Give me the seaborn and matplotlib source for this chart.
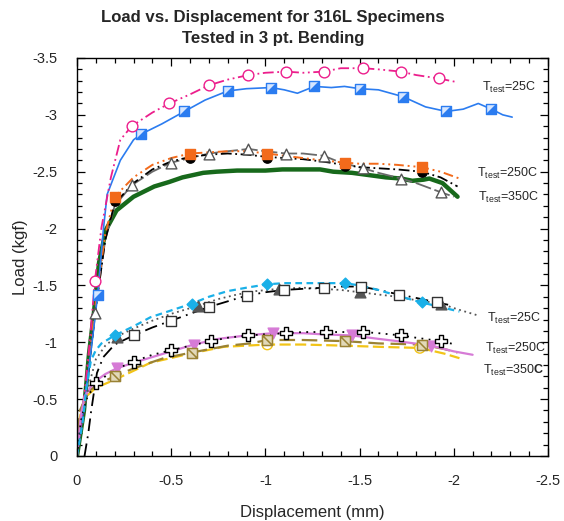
import matplotlib
matplotlib.use("Agg")
import matplotlib.pyplot as plt
import seaborn as sns
import numpy as np
from matplotlib.path import Path
from matplotlib.ticker import MultipleLocator, FuncFormatter

# ---- upper group (first specimen set) ----
# T=25C, pink dash-dot-dot, open circles
pink_x = [0, -0.04, -0.07, -0.095, -0.13, -0.18, -0.23, -0.29, -0.4, -0.49, -0.6, -0.7, -0.8, -0.91,
          -1.0, -1.11, -1.2, -1.31, -1.4, -1.52, -1.6, -1.72, -1.8, -1.92, -2.01]
pink_y = [0, -0.55, -1.05, -1.54, -2.01, -2.45, -2.78, -2.90, -3.02, -3.10, -3.18, -3.26, -3.31, -3.35,
          -3.37, -3.38, -3.37, -3.38, -3.41, -3.41, -3.40, -3.38, -3.35, -3.32, -3.29]
pink_mx = [-0.095, -0.29, -0.49, -0.70, -0.91, -1.11, -1.31, -1.52, -1.72, -1.92]
pink_my = [-1.54, -2.90, -3.10, -3.26, -3.35, -3.38, -3.38, -3.41, -3.38, -3.32]

# T=25C, blue solid, half filled squares
blue_x = [0, -0.05, -0.08, -0.11, -0.14, -0.16, -0.23, -0.30, -0.34, -0.45, -0.57, -0.68, -0.8, -0.9,
          -1.03, -1.1, -1.17, -1.26, -1.35, -1.42, -1.5, -1.6, -1.73, -1.85, -1.96, -2.05, -2.13,
          -2.2, -2.26, -2.31]
blue_y = [0, -0.6, -1.0, -1.42, -1.99, -2.30, -2.60, -2.78, -2.83, -2.92, -3.03, -3.13, -3.21, -3.23,
          -3.24, -3.22, -3.19, -3.25, -3.24, -3.25, -3.23, -3.22, -3.16, -3.07, -3.03, -3.05, -3.10,
          -3.05, -3.00, -2.98]
blue_mx = [-0.11, -0.34, -0.57, -0.80, -1.03, -1.26, -1.50, -1.73, -1.96, -2.20]
blue_my = [-1.42, -2.83, -3.03, -3.21, -3.24, -3.25, -3.23, -3.16, -3.03, -3.05]

# T=250C, orange dash-dot-dot, filled squares
orange_x = [0, -0.05, -0.1, -0.15, -0.2, -0.3, -0.4, -0.5, -0.6, -0.7, -0.8, -0.9, -1.01, -1.1, -1.2,
            -1.3, -1.42, -1.5, -1.6, -1.7, -1.83, -1.93, -2.03]
orange_y = [0, -0.65, -1.35, -1.95, -2.28, -2.45, -2.56, -2.62, -2.66, -2.67, -2.68, -2.68, -2.66,
            -2.64, -2.62, -2.60, -2.58, -2.57, -2.57, -2.56, -2.54, -2.50, -2.44]
orange_mx = [-0.20, -0.60, -1.01, -1.42, -1.83]
orange_my = [-2.28, -2.66, -2.66, -2.58, -2.54]

# T=250C, black dashed, filled circles
black_x = [0, -0.05, -0.1, -0.15, -0.2, -0.3, -0.4, -0.5, -0.6, -0.7, -0.8, -0.9, -1.01, -1.1, -1.2,
           -1.3, -1.42, -1.5, -1.6, -1.7, -1.83, -1.93, -2.02]
black_y = [0, -0.6, -1.3, -1.9, -2.22, -2.40, -2.52, -2.59, -2.63, -2.65, -2.66, -2.65, -2.63, -2.62,
           -2.61, -2.59, -2.56, -2.54, -2.53, -2.52, -2.50, -2.45, -2.37]
black_mx = [-0.20, -0.60, -1.01, -1.42, -1.83]
black_my = [-2.24, -2.62, -2.62, -2.55, -2.50]

# T=350C, gray, open triangles
gray_x = [0, -0.05, -0.095, -0.15, -0.2, -0.29, -0.4, -0.5, -0.6, -0.7, -0.8, -0.91, -1.0, -1.11,
          -1.2, -1.31, -1.4, -1.52, -1.6, -1.72, -1.8, -1.93, -2.0]
gray_y = [0, -0.6, -1.26, -1.9, -2.2, -2.38, -2.50, -2.58, -2.62, -2.66, -2.68, -2.70, -2.68, -2.66,
          -2.66, -2.64, -2.58, -2.53, -2.49, -2.44, -2.40, -2.32, -2.28]
gray_mx = [-0.095, -0.29, -0.50, -0.70, -0.91, -1.11, -1.31, -1.52, -1.72, -1.93]
gray_my = [-1.26, -2.38, -2.58, -2.66, -2.70, -2.66, -2.64, -2.53, -2.44, -2.32]

# T=350C, thick green
green_x = [0, -0.037, -0.064, -0.09, -0.117, -0.154, -0.21, -0.30, -0.41, -0.49, -0.56, -0.67, -0.74,
           -0.85, -1.0, -1.09, -1.18, -1.29, -1.36, -1.46, -1.55, -1.64, -1.72, -1.78, -1.84, -1.87,
           -1.94, -1.98, -2.02]
green_y = [0, -0.40, -0.90, -1.26, -1.70, -1.99, -2.16, -2.28, -2.37, -2.41, -2.45, -2.49, -2.50,
           -2.51, -2.51, -2.52, -2.52, -2.52, -2.50, -2.49, -2.47, -2.45, -2.44, -2.42, -2.43, -2.44,
           -2.40, -2.34, -2.28]

# ---- lower group (second specimen set) ----
# T=25C, light blue short dash, diamonds
lblue_x = [0, -0.03, -0.05, -0.074, -0.1, -0.13, -0.2, -0.3, -0.39, -0.5, -0.61, -0.7, -0.8, -0.9,
           -1.01, -1.1, -1.2, -1.3, -1.42, -1.5, -1.6, -1.7, -1.83, -1.93, -2.03]
lblue_y = [0, -0.3, -0.6, -0.84, -0.93, -0.99, -1.06, -1.14, -1.22, -1.28, -1.34, -1.40, -1.45, -1.48,
           -1.51, -1.52, -1.52, -1.52, -1.52, -1.50, -1.46, -1.41, -1.35, -1.31, -1.27]
lblue_mx = [-0.20, -0.61, -1.01, -1.42, -1.83]
lblue_my = [-1.06, -1.34, -1.51, -1.52, -1.35]

# T=25C, black dash-dot, open squares
osq_x = [-0.04, -0.06, -0.074, -0.09, -0.106, -0.14, -0.2, -0.3, -0.4, -0.5, -0.6, -0.7, -0.8, -0.9,
         -1.0, -1.1, -1.2, -1.31, -1.4, -1.51, -1.6, -1.71, -1.8, -1.91, -1.97]
osq_y = [0, -0.2, -0.38, -0.56, -0.73, -0.87, -0.98, -1.06, -1.13, -1.19, -1.25, -1.31, -1.36, -1.41,
         -1.44, -1.46, -1.47, -1.48, -1.49, -1.49, -1.46, -1.42, -1.39, -1.35, -1.33]
osq_mx = [-0.30, -0.50, -0.70, -0.90, -1.10, -1.31, -1.51, -1.71, -1.91]
osq_my = [-1.06, -1.19, -1.31, -1.41, -1.46, -1.48, -1.49, -1.42, -1.35]

# T=25C, gray dotted, filled triangles
dtri_x = [0, -0.03, -0.06, -0.1, -0.15, -0.21, -0.3, -0.4, -0.5, -0.64, -0.75, -0.85, -0.95, -1.07,
          -1.2, -1.3, -1.4, -1.50, -1.6, -1.7, -1.8, -1.93, -2.02, -2.12]
dtri_y = [0, -0.3, -0.6, -0.85, -0.97, -1.05, -1.12, -1.19, -1.25, -1.32, -1.38, -1.42, -1.45, -1.47,
          -1.48, -1.47, -1.46, -1.44, -1.42, -1.40, -1.37, -1.34, -1.29, -1.24]
dtri_mx = [-0.21, -0.64, -1.07, -1.50, -1.93]
dtri_my = [-1.05, -1.32, -1.47, -1.44, -1.34]

# T=250C, black dotted, open crosses
cross_x = [0, -0.02, -0.05, -0.10, -0.2, -0.30, -0.4, -0.50, -0.6, -0.71, -0.8, -0.91, -1.0, -1.11,
           -1.2, -1.32, -1.4, -1.52, -1.6, -1.72, -1.8, -1.93, -2.01]
cross_y = [0, -0.3, -0.5, -0.64, -0.76, -0.83, -0.89, -0.93, -0.97, -1.01, -1.04, -1.06, -1.07, -1.08,
           -1.09, -1.09, -1.09, -1.09, -1.08, -1.06, -1.04, -1.01, -0.98]
cross_mx = [-0.10, -0.30, -0.50, -0.71, -0.91, -1.11, -1.32, -1.52, -1.72, -1.93]
cross_my = [-0.64, -0.83, -0.93, -1.01, -1.06, -1.08, -1.09, -1.09, -1.06, -1.01]

# T=250C, violet solid, down triangles
violet_x = [0, -0.02, -0.04, -0.07, -0.1, -0.15, -0.21, -0.3, -0.4, -0.5, -0.62, -0.75, -0.9, -1.04,
            -1.2, -1.3, -1.46, -1.6, -1.7, -1.88, -2.0, -2.10]
violet_y = [0, -0.35, -0.52, -0.6, -0.66, -0.72, -0.77, -0.82, -0.87, -0.92, -0.98, -1.03, -1.06,
            -1.08, -1.08, -1.07, -1.06, -1.03, -1.01, -0.97, -0.92, -0.89]
violet_mx = [-0.21, -0.62, -1.04, -1.46, -1.88]
violet_my = [-0.77, -0.98, -1.08, -1.06, -0.97]

# T=350C, olive dashed, slashed squares
olive_x = [0, -0.01, -0.04, -0.07, -0.12, -0.2, -0.3, -0.46, -0.61, -0.8, -0.92, -1.01, -1.2, -1.42,
           -1.6, -1.83, -1.95, -2.02]
olive_y = [0, -0.38, -0.49, -0.58, -0.64, -0.70, -0.77, -0.86, -0.91, -0.97, -0.99, -1.02, -1.02,
           -1.01, -0.99, -0.98, -0.94, -0.91]
olive_mx = [-0.20, -0.61, -1.01, -1.42, -1.83]
olive_my = [-0.70, -0.91, -1.02, -1.01, -0.98]

# T=350C, yellow dashed, open circles
yellow_x = [0, -0.01, -0.03, -0.06, -0.1, -0.2, -0.39, -0.6, -0.78, -1.01, -1.2, -1.42, -1.6, -1.82,
            -1.95, -2.03]
yellow_y = [0, -0.3, -0.45, -0.54, -0.60, -0.67, -0.82, -0.90, -0.96, -0.98, -0.98, -0.97, -0.96,
            -0.95, -0.90, -0.86]
yellow_mx = [-1.01, -1.82]
yellow_my = [-0.98, -0.95]

# temperature labels: x, y (baseline), temperature text
labels = [(-2.150, -3.21, "25C"), (-2.123, -2.454, "250C"), (-2.128, -2.243, "350C"),
          (-2.176, -1.179, "25C"), (-2.166, -0.915, "250C"), (-2.155, -0.721, "350C")]

sns.set_style("ticks")
plt.rcParams['font.family'] = ['Liberation Sans', 'DejaVu Sans']
plt.rcParams['mathtext.fontset'] = 'custom'
plt.rcParams['mathtext.rm'] = 'Liberation Sans'
plt.rcParams['mathtext.bf'] = 'Liberation Sans:bold'

fig = plt.figure(figsize=(5.64, 5.21), dpi=100)
ax = fig.add_axes([0.1365, 0.1248, 0.8351, 0.7639])


def line(x, y, color, ls, lw=1.2, z=2):
    sns.lineplot(x=x, y=y, sort=False, estimator=None, color=color, linestyle=ls,
                 linewidth=lw, ax=ax, zorder=z)


def pts(x, y, marker, face, edge, s=52, lw=1.0, z=4):
    sns.scatterplot(x=x, y=y, marker=marker, s=s, facecolor=face, edgecolor=edge,
                    linewidth=lw, ax=ax, zorder=z)


sq = Path([(-1, -1), (1, -1), (1, 1), (-1, 1), (-1, -1)],
          [Path.MOVETO, Path.LINETO, Path.LINETO, Path.LINETO, Path.CLOSEPOLY])
half = Path([(-1, -1), (1, -1), (1, 1), (-1, -1)],
            [Path.MOVETO, Path.LINETO, Path.LINETO, Path.CLOSEPOLY])
slash = Path([(-1, -1), (1, -1), (1, 1), (-1, 1), (-1, -1), (-1, 1), (1, -1)],
             [Path.MOVETO, Path.LINETO, Path.LINETO, Path.LINETO, Path.CLOSEPOLY,
              Path.MOVETO, Path.LINETO])

# upper group
line(green_x, green_y, '#17691b', '-', lw=3.2, z=2)
line(gray_x, gray_y, '#6a6a6a', (0, (9, 2)), lw=1.3)
line(black_x, black_y, 'black', (0, (6, 2, 1, 2)), lw=1.3)
line(orange_x, orange_y, '#f26a1b', (0, (5, 2, 1, 2, 1, 2)), lw=1.4)
line(blue_x, blue_y, '#2b7cf0', '-', lw=1.2)
line(pink_x, pink_y, '#ec1e8c', (0, (6, 2, 1, 2, 1, 2)), lw=1.3)

pts(gray_mx, gray_my, '^', 'white', '#555555', s=60)
pts(black_mx, black_my, 'o', 'black', 'black', s=45)
pts(orange_mx, orange_my, 's', '#f26a1b', '#f26a1b', s=55, z=5)
pts(blue_mx, blue_my, sq, '#d6e6ff', '#2b7cf0', s=52)
pts(blue_mx, blue_my, half, '#2b7cf0', '#2b7cf0', s=52, lw=0, z=5)
pts(pink_mx, pink_my, 'o', 'white', '#ec1e8c', s=60)

# lower group
line(yellow_x, yellow_y, '#f2c417', (0, (5, 2)), lw=1.6)
line(olive_x, olive_y, '#9a8234', (0, (7, 3)), lw=1.6)
line(violet_x, violet_y, '#d67bd6', '-', lw=1.6)
line(cross_x, cross_y, 'black', (0, (1, 3)), lw=1.3)
line(dtri_x, dtri_y, '#555555', (0, (1, 2)), lw=1.3)
line(osq_x, osq_y, 'black', (0, (7, 3, 1, 3)), lw=1.3)
line(lblue_x, lblue_y, '#1ab0e8', (0, (3, 2)), lw=1.6)

pts(yellow_mx, yellow_my, 'o', 'none', '#f2c417', s=55)
pts(olive_mx, olive_my, slash, '#e2d9b8', '#9a8234', s=52, lw=1.1, z=5)
pts(violet_mx, violet_my, 'v', '#d67bd6', '#d67bd6', s=60)
pts(cross_mx, cross_my, 'P', 'white', 'black', s=70, lw=1.0)
pts(dtri_mx, dtri_my, '^', '#555555', '#555555', s=60)
pts(osq_mx, osq_my, 's', 'white', '#333333', s=55, z=5)
pts(lblue_mx, lblue_my, 'D', '#1ab0e8', '#1ab0e8', s=30)

for i, (lx, ly, tc) in enumerate(labels):
    if i == 5:
        txt = r'T$_{\mathrm{test}}$=350$\mathbf{C}$'
    else:
        txt = r'T$_{\mathrm{test}}$=' + tc
    ax.text(lx, ly, txt, fontsize=9, ha='left', va='baseline')

ax.set_xlim(0, -2.5)
ax.set_ylim(0, -3.5)
ax.xaxis.set_major_locator(MultipleLocator(0.5))
ax.xaxis.set_minor_locator(MultipleLocator(0.1))
ax.yaxis.set_major_locator(MultipleLocator(0.5))
ax.yaxis.set_minor_locator(MultipleLocator(0.1))
fmt = FuncFormatter(lambda v, p: '0' if abs(v) < 1e-9 else f'{v:g}'.replace('\u2212', '-'))
ax.xaxis.set_major_formatter(fmt)
ax.yaxis.set_major_formatter(fmt)
ax.tick_params(which='both', direction='in', top=True, right=True, labelsize=10.5,
               color='black', width=0.9)
ax.tick_params(which='major', length=6)
ax.tick_params(axis='x', which='major', pad=13)
ax.tick_params(axis='y', which='major', pad=14)
ax.tick_params(which='minor', length=3.5)
for sp in ax.spines.values():
    sp.set_linewidth(1.0)
    sp.set_color('black')

ax.set_xlabel('Displacement (mm)', fontsize=12, labelpad=12)
ax.set_ylabel('Load (kgf)', fontsize=12, labelpad=3)
ax.set_title('Load vs. Displacement for 316L Specimens\nTested in 3 pt. Bending',
             fontsize=12.1, fontweight='bold', pad=11, linespacing=1.45, x=0.416)

fig.savefig('out.png', dpi=100)
